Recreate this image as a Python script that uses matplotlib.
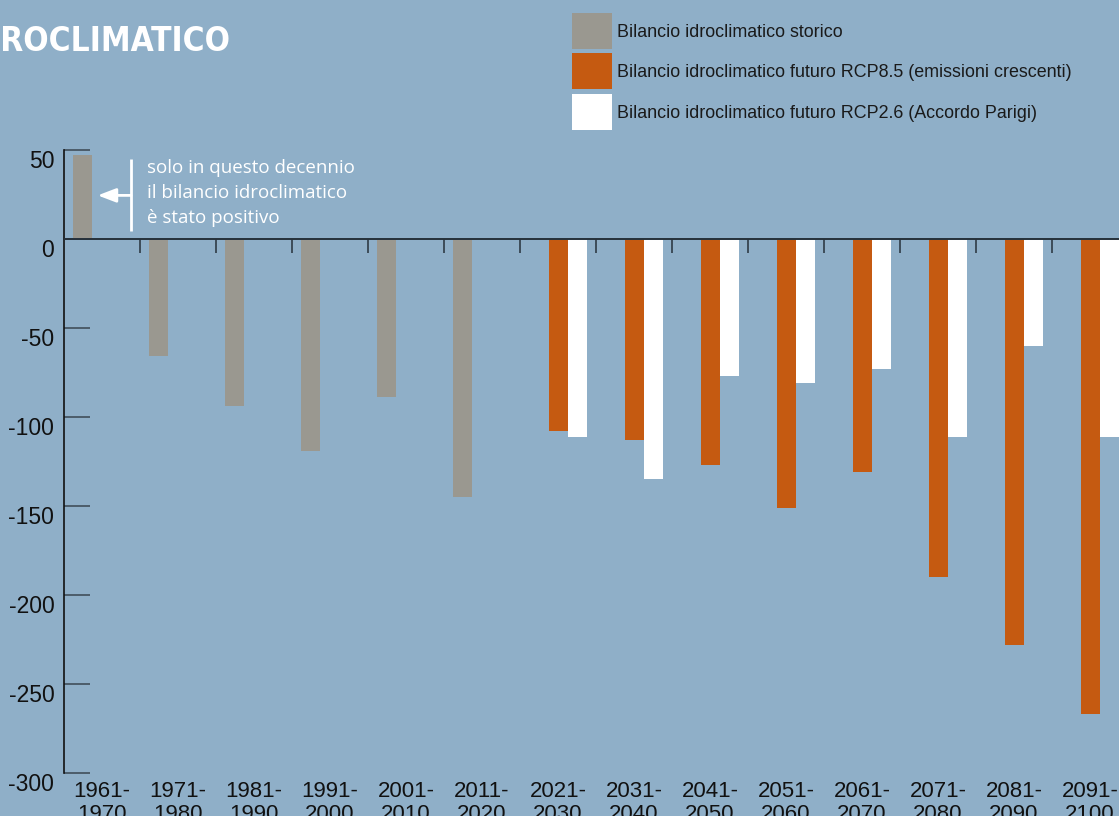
import numpy as np
import matplotlib
matplotlib.use("Agg")
import matplotlib.pyplot as plt
import matplotlib.transforms as mtransforms
from matplotlib.patches import Rectangle
from matplotlib import font_manager as fm

plt.rcParams['font.family'] = ['Liberation Sans', 'DejaVu Sans']

# ---- data ----
categories = ["1961-\n1970", "1971-\n1980", "1981-\n1990", "1991-\n2000", "2001-\n2010",
              "2011-\n2020", "2021-\n2030", "2031-\n2040", "2041-\n2050", "2051-\n2060",
              "2061-\n2070", "2071-\n2080", "2081-\n2090", "2091-\n2100"]
storico = [47, -66, -94, -119, -89, -145]                       # 1961-2020
rcp85 = [-108, -113, -127, -151, -131, -190, -228, -267]        # 2021-2100
rcp26 = [-111, -135, -77, -81, -73, -111, -60, -111]            # 2021-2100
yticks = [-300, -250, -200, -150, -100, -50, 0, 50]

labels = ["Bilancio idroclimatico storico",
          "Bilancio idroclimatico futuro RCP8.5 (emissioni crescenti)",
          "Bilancio idroclimatico futuro RCP2.6 (Accordo Parigi)"]
title = "BILANCIO IDROCLIMATICO"
title_visible = "ROCLIMATICO"
note = "solo in questo decennio\nil bilancio idroclimatico\nè stato positivo"

# ---- style ----
BG = "#8FAFC8"
C_GRAY = "#9A9890"
C_ORANGE = "#C55A11"
C_WHITE = "#FFFFFF"
colors = [C_GRAY, C_ORANGE, C_WHITE]
W, H = 1119, 816

fig = plt.figure(figsize=(W / 100, H / 100), dpi=100, facecolor=BG)
ax = fig.add_axes([64 / W, (H - 773) / H, (W - 64) / W, (773 - 150) / H])
ax.set_facecolor(BG)

n = len(categories)
x = np.arange(n)
n_hist = len(storico)
bw = 0.25
off = 0.26

ax.bar(x[:n_hist] - off, storico, width=bw, color=C_GRAY, zorder=2)
ax.bar(x[n_hist:], rcp85, width=bw, color=C_ORANGE, zorder=2)
ax.bar(x[n_hist:] + off, rcp26, width=bw, color=C_WHITE, zorder=2)

ax.set_xlim(-0.5, -0.5 + (W - 64) / 76)
ax.set_ylim(-300, 50)

# zero line and boundary ticks
ax.axhline(0, color="#26313b", lw=1.4, zorder=3)
ax.vlines(x[:-1] + 0.5, -8, 0, color="#26313b", lw=1.1, zorder=3)

for s in ["top", "right", "bottom"]:
    ax.spines[s].set_visible(False)
ax.spines["left"].set_color("#111111")
ax.spines["left"].set_linewidth(1.2)

ax.set_yticks(yticks)
ax.set_yticklabels([str(v) for v in yticks])
ax.tick_params(axis="y", direction="in", length=18.5, width=1.1, color="#3a4650",
               labelsize=16.5, pad=7, labelcolor="#111111")
offset = mtransforms.ScaledTranslation(0, -9 / 100, fig.dpi_scale_trans)
for lab in ax.get_yticklabels():
    lab.set_transform(lab.get_transform() + offset)

ax.set_xticks(x)
ax.set_xticklabels(categories, linespacing=1.12)
ax.tick_params(axis="x", length=0, labelsize=16, pad=5.5, labelcolor="#111111")

# annotation
ax.plot([0.382, 0.382], [44.8, 4.3], color="white", lw=2, zorder=4, solid_capstyle="butt")
ax.annotate("", xy=(-0.057, 24.5), xytext=(0.382, 24.5),
            arrowprops=dict(arrowstyle="-|>,head_length=1.1,head_width=0.42",
                            color="white", lw=2, shrinkA=0, shrinkB=0))
ax.text(0.592, 45.0, note, color="white", fontsize=13.5, va="top", ha="left",
        linespacing=1.52, family=["Open Sans", "DejaVu Sans"], zorder=4)

# title (cropped at the left edge): pick a condensed bold face if one is installed
title_family = "Roboto"
title_stretch = "normal"
for fam, st in [("Liberation Sans Narrow", "normal"), ("Roboto", "condensed"),
                ("Open Sans", "condensed"), ("DejaVu Sans", "condensed")]:
    try:
        fp = fm.FontProperties(family=fam, stretch=st, weight="bold")
        path = fm.findfont(fp, fallback_to_default=False)
        if ("Narrow" in path or "Condensed" in path):
            title_family, title_stretch = fam, st
            break
    except Exception:
        pass

renderer = fig.canvas.get_renderer()
probe = fig.text(0, 0, title_visible, fontsize=29, fontweight="bold",
                 family=title_family, fontstretch=title_stretch)
wpx = probe.get_window_extent(renderer).width
probe.remove()
tsize = 29 * 230 / wpx
fig.text(230 / W, (H - 51) / H, title, color="white", fontsize=tsize, fontweight="bold",
         ha="right", va="baseline", family=title_family, fontstretch=title_stretch)

# legend (drawn as figure patches + texts)
sq_tops = [12.7, 52.7, 94.0]
for col, lab, top in zip(colors, labels, sq_tops):
    fig.add_artist(Rectangle((572 / W, (H - top - 36) / H), 40 / W, 36 / H,
                             transform=fig.transFigure, facecolor=col, edgecolor="none"))
    fig.text(617 / W, (H - top - 24.5) / H, lab, fontsize=12.9, color="#1a1a1a",
             ha="left", va="baseline")

fig.savefig("out.png", dpi=100, facecolor=BG)
